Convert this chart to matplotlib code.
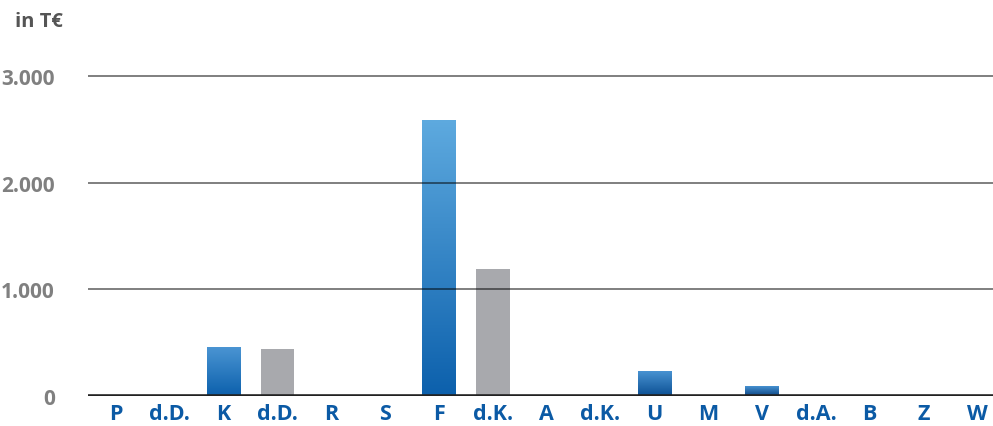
import matplotlib
matplotlib.use("Agg")
import matplotlib.pyplot as plt
import numpy as np
from matplotlib.colors import LinearSegmentedColormap

plt.rcParams["font.family"] = ["Open Sans", "DejaVu Sans"]

# Daten
kategorien = ["P", "d.D.", "K", "d.D.", "R", "S", "F", "d.K.", "A",
              "d.K.", "U", "M", "V", "d.A.", "B", "Z", "W"]
werte = [0, 0, 450, 440, 0, 0, 2580, 1190, 0,
         0, 225, 0, 85, 0, 0, 0, 0]
grau = [False, False, False, True, False, False, False, True, False,
        False, False, False, False, False, False, False, False]
y_ticks = [0, 1000, 2000, 3000]
y_labels = ["0", "1.000", "2.000", "3.000"]

BLAU_TXT = "#0B5AA5"
GRAU_BAR = "#A8A9AD"
BAR_W = 0.62

fig = plt.figure(figsize=(9.93, 4.27), dpi=100)
ax = fig.add_axes([88 / 993, 30 / 427, 1 - 88 / 993, (397 - 66.3) / 427])

for i, (v, g) in enumerate(zip(werte, grau)):
    if v <= 0:
        continue
    x0, x1 = i - BAR_W / 2, i + BAR_W / 2
    if g:
        ax.bar(i, v, width=BAR_W, color=GRAU_BAR, zorder=2)
        continue
    # Verlauf je Balken: sehr kurze Balken unten dunkler
    tb = min(v / 450, 1.0)
    tt = min(v / 2600, 1.0)
    bottom = np.array([11, 63, 123]) * (1 - tb) + np.array([12, 96, 172]) * tb
    top = np.array([70, 144, 208]) * (1 - tt) + np.array([94, 170, 223]) * tt
    cmap = LinearSegmentedColormap.from_list("g", [bottom / 255, top / 255])
    grad = np.linspace(0, 1, 256).reshape(-1, 1)
    ax.imshow(grad, cmap=cmap, origin="lower", aspect="auto",
              extent=[x0, x1, 0, v], zorder=2)

ax.set_xlim(-0.52, 16.29)
ax.set_ylim(0, 3100)

for yt in y_ticks[1:]:
    ax.axhline(yt, color="black", alpha=0.5, lw=1.4, zorder=3)
ax.axhline(0, color="#222222", lw=2.6, zorder=4)

for s in ax.spines.values():
    s.set_visible(False)

ax.set_xticks(range(len(kategorien)))
ax.set_xticklabels(kategorien, color=BLAU_TXT, fontsize=15.5, fontweight="bold")
ax.tick_params(axis="x", length=0, pad=5)

ax.set_yticks(y_ticks)
ax.set_yticklabels(y_labels, color="#808080", fontsize=15, fontweight="bold")
ax.tick_params(axis="y", length=0, pad=24)

fig.text(15 / 993, 1 - 22 / 427, "in T€", color="#555555", fontsize=14.5,
         fontweight="bold", va="center", ha="left")

fig.savefig("out.png", dpi=100)
